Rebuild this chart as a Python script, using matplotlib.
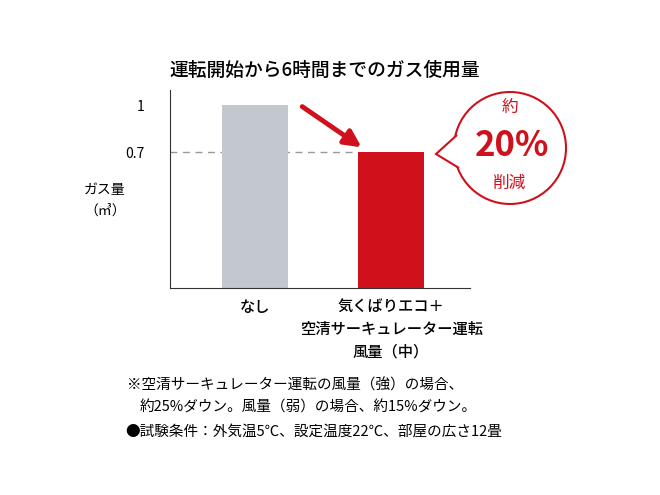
import matplotlib
matplotlib.use("Agg")
import matplotlib.pyplot as plt
from matplotlib.patches import Circle, Polygon

plt.rcParams['font.family'] = ['Noto Sans CJK JP', 'DejaVu Sans']

categories = ["なし", "気くばりエコ＋\n空清サーキュレーター運転\n風量（中）"]
values = [1.0, 0.7]
colors = ["#c3c7ce", "#d0101b"]
tick_vals = [0.7, 1]
tick_labels = ["0.7", "1"]

W, H = 660, 495
ybot = -0.168
fig = plt.figure(figsize=(6.6, 4.95), dpi=100)
ax = fig.add_axes([170/W, 1-288/H, 300/W, 198/H])
ax.bar([0, 1], [v - ybot for v in values], bottom=ybot, width=0.49, color=colors, zorder=2)
ax.set_xlim(-0.625, 1.58)
ax.set_ylim(ybot, 1.096)
ax.spines[['top', 'right']].set_visible(False)
ax.spines[['left', 'bottom']].set_color('#333333')
ax.set_yticks(tick_vals)
ax.set_yticklabels(tick_labels, fontsize=10)
ax.tick_params(axis='y', length=0, pad=18)
ax.set_xticks([0, 1])
ax.set_xticklabels(categories, fontsize=11, linespacing=1.4, fontweight='medium')
ax.tick_params(axis='x', length=0, pad=8)
ax.plot([-0.625, 1 - 0.245], [0.7, 0.7], ls=(0, (5, 4)), color='#999999', lw=1, zorder=1)
ax.annotate("", xy=(0.8, 0.72), xytext=(0.33, 1.0),
            arrowprops=dict(arrowstyle='-|>,head_width=0.5,head_length=1.0', color='#d0101b', lw=3.5))

fig.text(325/W, 1-70/H, "運転開始から6時間までのガス使用量", ha='center', va='center', fontsize=13.5, fontweight='medium')
fig.text(105/W, 1-200/H, "ガス量\n（㎥）", ha='center', va='center', fontsize=10, linespacing=1.6)

oax = fig.add_axes([0, 0, 1, 1], facecolor='none')
oax.set_xlim(0, W); oax.set_ylim(H, 0); oax.axis('off')
circ = Circle((510, 148), 56, facecolor='white', edgecolor='#d0101b', lw=1.5, zorder=3)
oax.add_patch(circ)
tri = Polygon([[457, 135], [436, 154], [459, 168]], closed=False, facecolor='white', edgecolor='#d0101b', lw=1.5, zorder=4)
oax.add_patch(tri)
oax.add_patch(Polygon([[460, 136], [441, 154], [462, 166]], closed=True, facecolor='white', edgecolor='none', zorder=5))
oax.text(510, 107, "約", ha='center', va='center', fontsize=12, color='#d0101b', zorder=6)
oax.text(512, 145, "20%", ha='center', va='center', fontsize=25, fontweight='bold', color='#d0101b', zorder=6)
oax.text(510, 183, "削減", ha='center', va='center', fontsize=12, color='#d0101b', zorder=6)

oax.text(127, 385, "※空清サーキュレーター運転の風量（強）の場合、", ha='left', va='center', fontsize=10.5)
oax.text(140, 408, "約25%ダウン。風量（弱）の場合、約15%ダウン。", ha='left', va='center', fontsize=10.5)
oax.text(125, 432, "●試験条件：外気温5℃、設定温度22℃、部屋の広さ12畳", ha='left', va='center', fontsize=10.5)

fig.savefig("out.png", dpi=100)
